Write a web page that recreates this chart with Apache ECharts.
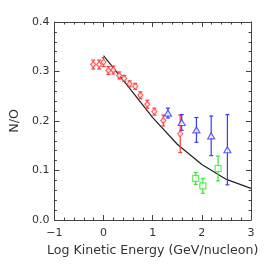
<!DOCTYPE html>
<html><head><meta charset="utf-8">
<script src="https://cdn.jsdelivr.net/npm/echarts@6/dist/echarts.min.js"></script>
<style>html,body{margin:0;padding:0;background:#fff}#c{width:266px;height:266px}</style>
</head><body><div id="c"></div>
<script>
// Red diamonds: [logE, N/O, err]
const redX = [-0.21, -0.09, 0.0, 0.10, 0.20, 0.32, 0.42, 0.53, 0.645, 0.75, 0.89, 1.035, 1.215, 1.56];
const redY = [0.314, 0.314, 0.319, 0.302, 0.303, 0.292, 0.286, 0.275, 0.270, 0.252, 0.234, 0.219, 0.201, 0.174];
const redE = [0.009, 0.009, 0.009, 0.008, 0.008, 0.007, 0.006, 0.006, 0.006, 0.007, 0.008, 0.007, 0.011, 0.038];
// Blue triangles
const blueX = [1.31, 1.59, 1.89, 2.19, 2.52];
const blueY = [0.216, 0.197, 0.182, 0.170, 0.142];
const blueE = [0.010, 0.016, 0.025, 0.040, 0.071];
// Green squares
const greenX = [1.875, 2.02, 2.33];
const greenY = [0.084, 0.069, 0.104];
const greenE = [0.012, 0.015, 0.025];
// Model curve
const lineX = [0.0, 0.5, 1.0, 1.5, 2.0, 2.5, 3.0];
const lineY = [0.332, 0.270, 0.207, 0.153, 0.112, 0.082, 0.064];

const xTicks = [-1, 0, 1, 2, 3];
const yTicks = [0.0, 0.1, 0.2, 0.3, 0.4];

const FONT = 'DejaVu Sans';
const RED = '#ff3a3a', BLUE = '#3a3aff', GREEN = '#33e833';
const TXT = '#333';

function pts(xs, ys) { return xs.map((x, i) => [x, ys[i]]); }
function errs(xs, ys, es) { return xs.map((x, i) => [x, ys[i] - es[i], ys[i] + es[i]]); }
function errSeries(data, color) {
  return {
    type: 'custom', data: data, z: 3, silent: true,
    renderItem: function (params, api) {
      const lo = api.coord([api.value(0), api.value(1)]);
      const hi = api.coord([api.value(0), api.value(2)]);
      const w = 2;
      const st = { stroke: color, lineWidth: 1.2 };
      return { type: 'group', children: [
        { type: 'line', shape: { x1: lo[0], y1: lo[1], x2: hi[0], y2: hi[1] }, style: st },
        { type: 'line', shape: { x1: lo[0] - w, y1: lo[1], x2: lo[0] + w, y2: lo[1] }, style: st },
        { type: 'line', shape: { x1: hi[0] - w, y1: hi[1], x2: hi[0] + w, y2: hi[1] }, style: st }
      ]};
    }
  };
}
const axisCol = '#444';
function xAx(pos, show) {
  return {
    type: 'value', position: pos, min: xTicks[0], max: xTicks[xTicks.length - 1], interval: 1,
    axisLine: { show: true, onZero: false, lineStyle: { color: axisCol, width: 1 } },
    axisTick: { show: true, inside: true, length: 5, lineStyle: { color: axisCol } },
    minorTick: { show: true, splitNumber: 5, length: 2.5, lineStyle: { color: axisCol } },
    splitLine: { show: false },
    axisLabel: { show: show, color: TXT, fontFamily: FONT, fontSize: 11, margin: 8,
      formatter: v => (v < 0 ? '\u2212' + Math.abs(v) : String(v)) },
    name: show ? 'Log Kinetic Energy (GeV/nucleon)' : '',
    nameLocation: 'middle', nameGap: 24,
    nameTextStyle: { color: TXT, fontFamily: FONT, fontSize: 12.6 }
  };
}
function yAx(pos, show) {
  return {
    type: 'value', position: pos, min: yTicks[0], max: yTicks[yTicks.length - 1], interval: 0.1,
    axisLine: { show: true, onZero: false, lineStyle: { color: axisCol, width: 1 } },
    axisTick: { show: true, inside: true, length: 5, lineStyle: { color: axisCol } },
    minorTick: { show: true, splitNumber: 5, length: 2.5, lineStyle: { color: axisCol } },
    splitLine: { show: false },
    axisLabel: { show: show, color: TXT, fontFamily: FONT, fontSize: 11, margin: 5,
      formatter: v => v.toFixed(1) },
    name: show ? 'N/O' : '', nameLocation: 'middle', nameGap: 31, nameRotate: 90,
    nameTextStyle: { color: TXT, fontFamily: FONT, fontSize: 12.6 }
  };
}
const chart = echarts.init(document.getElementById('c'), null, { renderer: 'canvas' });
chart.setOption({
  animation: false,
  backgroundColor: '#fff',
  grid: { left: 49, right: 15, top: 22, bottom: 46 },
  xAxis: [xAx('bottom', true), xAx('top', false)],
  yAxis: [yAx('left', true), yAx('right', false)],
  series: [
    { type: 'line', data: pts(lineX, lineY), showSymbol: false, symbol: 'none', z: 2,
      lineStyle: { color: '#222', width: 1.2 } },
    errSeries(errs(redX, redY, redE), RED),
    errSeries(errs(blueX, blueY, blueE), BLUE),
    errSeries(errs(greenX, greenY, greenE), GREEN),
    { type: 'scatter', data: pts(redX, redY), symbol: 'diamond', symbolSize: [5, 6], z: 4,
      itemStyle: { color: '#fff', borderColor: RED, borderWidth: 1.2 } },
    { type: 'scatter', data: pts(blueX, blueY), symbol: 'triangle', symbolSize: [7, 6], z: 4,
      itemStyle: { color: '#fff', borderColor: BLUE, borderWidth: 1.2 } },
    { type: 'scatter', data: pts(greenX, greenY), symbol: 'rect', symbolSize: 6, z: 4,
      itemStyle: { color: '#fff', borderColor: GREEN, borderWidth: 1.2 } }
  ]
});
</script></body></html>
